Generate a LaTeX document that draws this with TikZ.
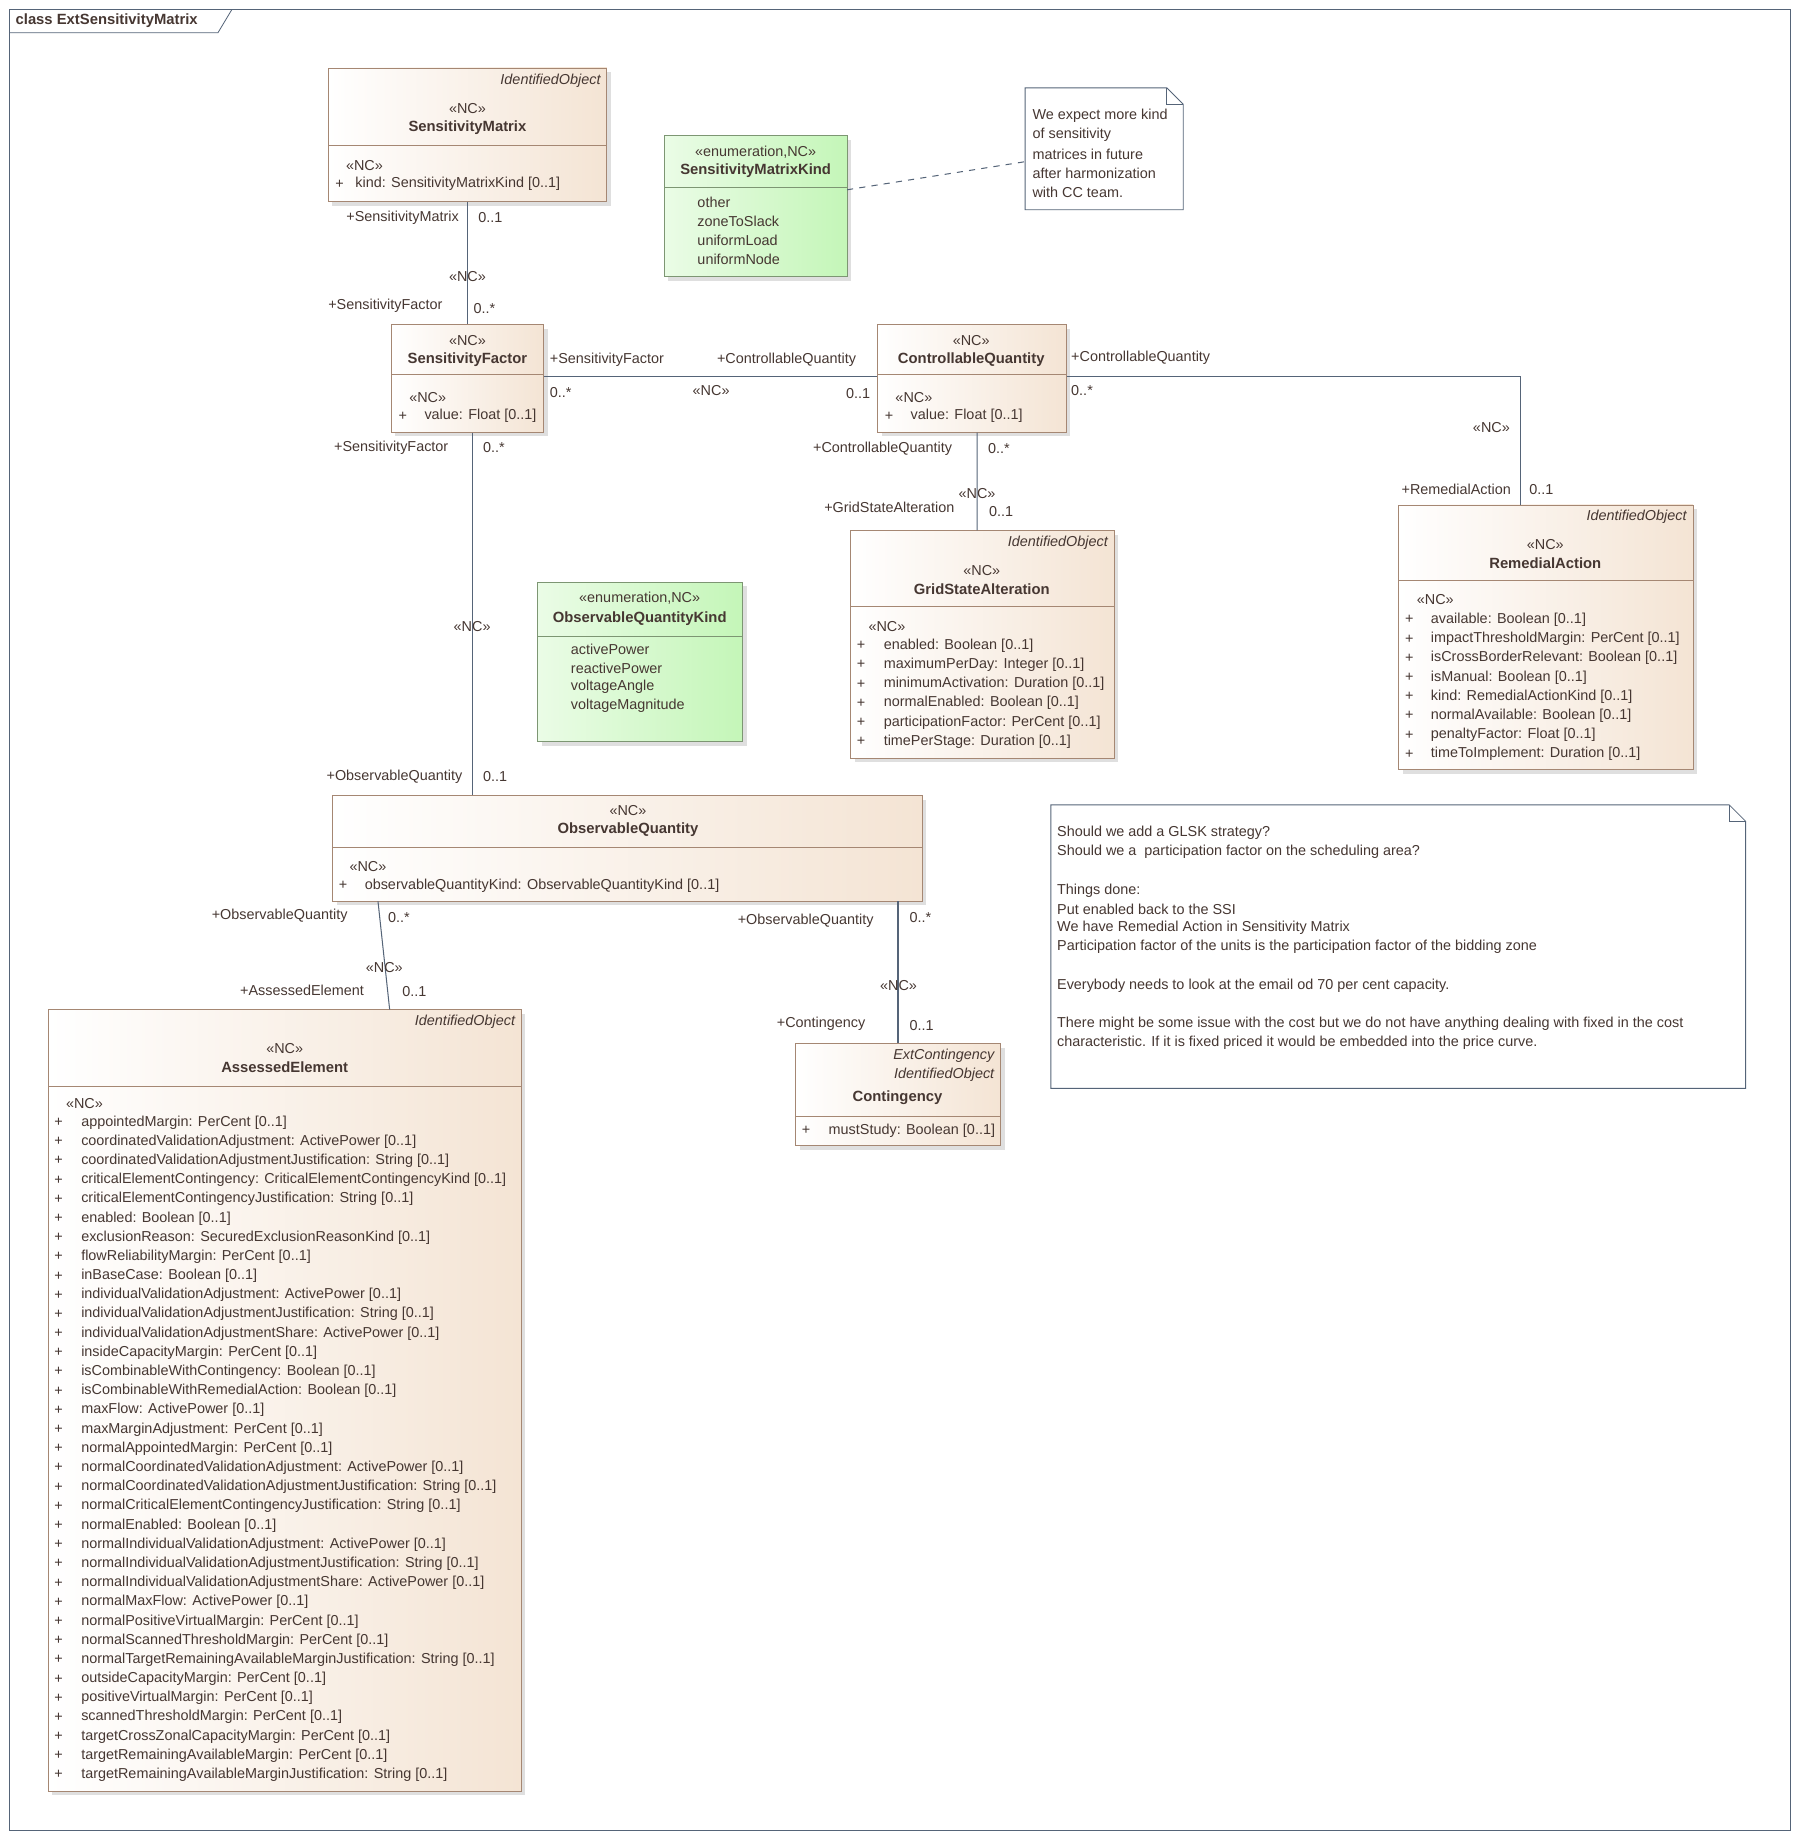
\documentclass[tikz,border=0pt]{standalone}
\usepackage{fontspec}
\setmainfont{Liberation Sans}
\usetikzlibrary{fit,shadows}
\definecolor{clsline}{RGB}{165,135,115}
\definecolor{clsfill}{RGB}{244,228,212}
\definecolor{enumfill}{RGB}{196,246,184}
\definecolor{enumline}{RGB}{125,150,115}
\definecolor{assoc}{RGB}{85,100,120}
\definecolor{txt}{RGB}{70,55,50}
\tikzset{
  cls/.style={draw=clsline, left color=white, right color=clsfill, inner sep=0pt,
    drop shadow={shadow xshift=2pt, shadow yshift=-2pt, fill=black!25}},
  enm/.style={draw=enumline, left color=enumfill!35, right color=enumfill, inner sep=0pt,
    drop shadow={shadow xshift=2pt, shadow yshift=-2pt, fill=black!25}},
  lbl/.style={font=\fontsize{7}{8}\selectfont, text=txt, inner sep=0pt},
  nm/.style={lbl, font=\fontsize{7.2}{8}\bfseries},
  it/.style={lbl, font=\fontsize{7}{8}\itshape, anchor=east},
  link/.style={draw=assoc, line width=0.5pt},
  note/.style={draw=assoc, fill=white}
}
% attribute list: + sign x, text x, first y, items
\newcommand\attlist[4]{%
  \foreach \a [count=\i] in {#4}
    {\node[lbl, anchor=west] at (#1, #3+\i*16.38-16.38) {+};
     \node[lbl, anchor=west] at (#2, #3+\i*16.38-16.38) {\a};}}
\newcommand\litlist[3]{%
  \foreach \a [count=\i] in {#3}
    {\node[lbl, anchor=west] at (#1, #2+\i*16.2-16.2) {\a};}}

\begin{document}
\begin{tikzpicture}[x=0.02cm, y=-0.02cm]
\useasboundingbox (0,0) rectangle (1536,1568);
% frame
\draw[assoc] (8,8) rectangle (1528,1562);
\draw[assoc] (8,28) -- (186,28) -- (198,8);
\node[nm, anchor=west] (title) at (13,18) {class ExtSensitivityMatrix};

% SensitivityMatrix
\node[cls, fit={(280,58)(518,172)}] (sm) {};
\draw[clsline] (280,124) -- (518,124);
\node[it] at (513,69) {IdentifiedObject};
\node[lbl] at (399,93) {«NC»};
\node[nm] (smname) at (399,109) {SensitivityMatrix};
\node[lbl, anchor=west] at (295,141) {«NC»};
\node[lbl, anchor=west] at (286,157) {+};
\node[lbl, anchor=west] at (303,157) {kind: SensitivityMatrixKind [0..1]};

% SensitivityMatrixKind
\node[enm, fit={(567,116)(723,236)}] (smk) {};
\draw[enumline] (567,160) -- (723,160);
\node[lbl] at (645,130) {«enumeration,NC»};
\node[nm] at (645,146) {SensitivityMatrixKind};
\litlist{595}{173}{other,zoneToSlack,uniformLoad,uniformNode}

% note 1
\draw[note] (875,75) -- (996,75) -- (1010,89) -- (1010,179) -- (875,179) -- cycle;
\draw[assoc] (996,75) -- (996,89) -- (1010,89);
\coordinate (n1) at (875,138);
\litlist{881}{99}{We expect more kind,of sensitivity,matrices in future,after harmonization,with CC team.}
\draw[link, dashed] (723,162) -- (n1);

% SensitivityFactor
\node[cls, fit={(334,277)(464,369)}] (sf) {};
\draw[clsline] (334,320) -- (464,320);
\node[lbl] at (399,291) {«NC»};
\node[nm] at (399,307) {SensitivityFactor};
\node[lbl, anchor=west] at (349,339) {«NC»};
\node[lbl, anchor=west] at (340,355) {+};
\node[lbl, anchor=west] at (362,355) {value: Float [0..1]};

% ControllableQuantity
\node[cls, fit={(749,277)(910,369)}] (cq) {};
\draw[clsline] (749,320) -- (910,320);
\node[lbl] at (829,291) {«NC»};
\node[nm] at (829,307) {ControllableQuantity};
\node[lbl, anchor=west] at (764,339) {«NC»};
\node[lbl, anchor=west] at (755,355) {+};
\node[lbl, anchor=west] at (777,355) {value: Float [0..1]};

% GridStateAlteration
\node[cls, fit={(726,453)(951,647)}] (gsa) {};
\draw[clsline] (726,518) -- (951,518);
\node[it] at (946,463) {IdentifiedObject};
\node[lbl] at (838,487) {«NC»};
\node[nm] at (838,503) {GridStateAlteration};
\node[lbl, anchor=west] at (741,535) {«NC»};
\attlist{731}{754}{551}{enabled: Boolean [0..1],maximumPerDay: Integer [0..1],minimumActivation: Duration [0..1],normalEnabled: Boolean [0..1],participationFactor: PerCent [0..1],timePerStage: Duration [0..1]}

% RemedialAction
\node[cls, fit={(1194,431)(1445,657)}] (ra) {};
\draw[clsline] (1194,495) -- (1445,495);
\node[it] at (1440,441) {IdentifiedObject};
\node[lbl] at (1319,465) {«NC»};
\node[nm] at (1319,481) {RemedialAction};
\node[lbl, anchor=west] at (1209,512) {«NC»};
\attlist{1199}{1221}{529}{available: Boolean [0..1],impactThresholdMargin: PerCent [0..1],isCrossBorderRelevant: Boolean [0..1],isManual: Boolean [0..1],kind: RemedialActionKind [0..1],normalAvailable: Boolean [0..1],penaltyFactor: Float [0..1],timeToImplement: Duration [0..1]}

% ObservableQuantityKind
\node[enm, fit={(459,497)(634,633)}] (oqk) {};
\draw[enumline] (459,543) -- (634,543);
\node[lbl] at (546,511) {«enumeration,NC»};
\node[nm] at (546,528) {ObservableQuantityKind};
\litlist{487}{554}{activePower,reactivePower,voltageAngle,voltageMagnitude}

% ObservableQuantity
\node[cls, fit={(284,679)(787,769)}] (oq) {};
\draw[clsline] (284,723) -- (787,723);
\node[lbl] at (536,692) {«NC»};
\node[nm] at (536,708) {ObservableQuantity};
\node[lbl, anchor=west] at (298,740) {«NC»};
\node[lbl, anchor=west] at (289,756) {+};
\node[lbl, anchor=west] at (311,756) {observableQuantityKind: ObservableQuantityKind [0..1]};

% Contingency
\node[cls, fit={(679,891)(854,978)}] (cont) {};
\draw[clsline] (679,953) -- (854,953);
\node[it] at (849,901) {ExtContingency};
\node[it] at (849,917) {IdentifiedObject};
\node[nm] at (766,937) {Contingency};
\attlist{684}{707}{965}{mustStudy: Boolean [0..1]}

% AssessedElement
\node[cls, fit={(41,862)(445,1529)}] (ae) {};
\draw[clsline] (41,927) -- (445,927);
\node[it] at (440,872) {IdentifiedObject};
\node[lbl] at (243,895) {«NC»};
\node[nm] at (243,911) {AssessedElement};
\node[lbl, anchor=west] at (56,942) {«NC»};
\attlist{46}{69}{958}{appointedMargin: PerCent [0..1],coordinatedValidationAdjustment: ActivePower [0..1],coordinatedValidationAdjustmentJustification: String [0..1],criticalElementContingency: CriticalElementContingencyKind [0..1],criticalElementContingencyJustification: String [0..1],enabled: Boolean [0..1],exclusionReason: SecuredExclusionReasonKind [0..1],flowReliabilityMargin: PerCent [0..1],inBaseCase: Boolean [0..1],individualValidationAdjustment: ActivePower [0..1],individualValidationAdjustmentJustification: String [0..1],individualValidationAdjustmentShare: ActivePower [0..1],insideCapacityMargin: PerCent [0..1],isCombinableWithContingency: Boolean [0..1],isCombinableWithRemedialAction: Boolean [0..1],maxFlow: ActivePower [0..1],maxMarginAdjustment: PerCent [0..1],normalAppointedMargin: PerCent [0..1],normalCoordinatedValidationAdjustment: ActivePower [0..1],normalCoordinatedValidationAdjustmentJustification: String [0..1],normalCriticalElementContingencyJustification: String [0..1],normalEnabled: Boolean [0..1],normalIndividualValidationAdjustment: ActivePower [0..1],normalIndividualValidationAdjustmentJustification: String [0..1],normalIndividualValidationAdjustmentShare: ActivePower [0..1],normalMaxFlow: ActivePower [0..1],normalPositiveVirtualMargin: PerCent [0..1],normalScannedThresholdMargin: PerCent [0..1],normalTargetRemainingAvailableMarginJustification: String [0..1],outsideCapacityMargin: PerCent [0..1],positiveVirtualMargin: PerCent [0..1],scannedThresholdMargin: PerCent [0..1],targetCrossZonalCapacityMargin: PerCent [0..1],targetRemainingAvailableMargin: PerCent [0..1],targetRemainingAvailableMarginJustification: String [0..1]}

% note 2
\draw[note] (897,687) -- (1476,687) -- (1490,701) -- (1490,929) -- (897,929) -- cycle;
\draw[assoc] (1476,687) -- (1476,701) -- (1490,701);
\node[lbl, anchor=west] at (902,711) {Should we add a GLSK strategy?};
\node[lbl, anchor=west] at (902,727) {Should we a\ \ participation factor on the scheduling area?};
\node[lbl, anchor=west] at (902,760) {Things done:};
\node[lbl, anchor=west] at (902,776) {Put enabled back to the SSI};
\node[lbl, anchor=west] at (902,792) {We have Remedial Action in Sensitivity Matrix};
\node[lbl, anchor=west] at (902,808) {Participation factor of the units is the participation factor of the bidding zone};
\node[lbl, anchor=west] at (902,841) {Everybody needs to look at the email od 70 per cent capacity.};
\node[lbl, anchor=west] at (902,874) {There might be some issue with the cost but we do not have anything dealing with fixed in the cost};
\node[lbl, anchor=west] at (902,890) {characteristic. If it is fixed priced it would be embedded into the price curve.};

% associations
\draw[link] (sm.south) -- (sf.north);
\node[lbl, anchor=east] at (392,186) {+SensitivityMatrix};
\node[lbl, anchor=west] at (408,186) {0..1};
\node[lbl] at (399,236) {«NC»};
\node[lbl, anchor=east] at (378,261) {+SensitivityFactor};
\node[lbl, anchor=west] at (404,263) {0..*};

\draw[link] ([yshift=0.04cm]sf.east) -- ([yshift=0.04cm]cq.west);
\node[lbl, anchor=west] at (469,307) {+SensitivityFactor};
\node[lbl, anchor=west] at (469,335) {0..*};
\node[lbl] at (607,333) {«NC»};
\node[lbl, anchor=east] at (731,307) {+ControllableQuantity};
\node[lbl, anchor=east] at (743,336) {0..1};

\draw[link] ([yshift=0.04cm]cq.east) -| ([xshift=-0.43cm]ra.north);
\node[lbl, anchor=west] at (914,305) {+ControllableQuantity};
\node[lbl, anchor=west] at (914,333) {0..*};
\node[lbl] at (1273,365) {«NC»};
\node[lbl, anchor=east] at (1290,418) {+RemedialAction};
\node[lbl, anchor=west] at (1305,418) {0..1};

\draw[link] ([xshift=0.09cm]cq.south) -- ([xshift=-0.09cm]gsa.north);
\node[lbl, anchor=east] at (813,383) {+ControllableQuantity};
\node[lbl, anchor=west] at (843,383) {0..*};
\node[lbl] at (834,421) {«NC»};
\node[lbl, anchor=east] at (815,433) {+GridStateAlteration};
\node[lbl, anchor=west] at (844,437) {0..1};

\draw[link] ([xshift=0.08cm]sf.south) -- ([xshift=0.08cm]sf.south |- oq.north);
\node[lbl, anchor=east] at (383,382) {+SensitivityFactor};
\node[lbl, anchor=west] at (412,382) {0..*};
\node[lbl] at (403,535) {«NC»};
\node[lbl, anchor=east] at (395,663) {+ObservableQuantity};
\node[lbl, anchor=west] at (412,663) {0..1};

\draw[link] ([xshift=0.78cm]oq.south west) -- ([xshift=5.84cm]ae.north west);
\node[lbl, anchor=east] at (297,782) {+ObservableQuantity};
\node[lbl, anchor=west] at (331,783) {0..*};
\node[lbl] at (328,826) {«NC»};
\node[lbl, anchor=east] at (311,845) {+AssessedElement};
\node[lbl, anchor=west] at (343,846) {0..1};

\draw[link] (cont.north |- oq.south) -- (cont.north);
\node[lbl, anchor=east] at (746,786) {+ObservableQuantity};
\node[lbl, anchor=west] at (776,783) {0..*};
\node[lbl] at (767,841) {«NC»};
\node[lbl, anchor=east] at (739,874) {+Contingency};
\node[lbl, anchor=west] at (776,875) {0..1};
\end{tikzpicture}
\end{document}
